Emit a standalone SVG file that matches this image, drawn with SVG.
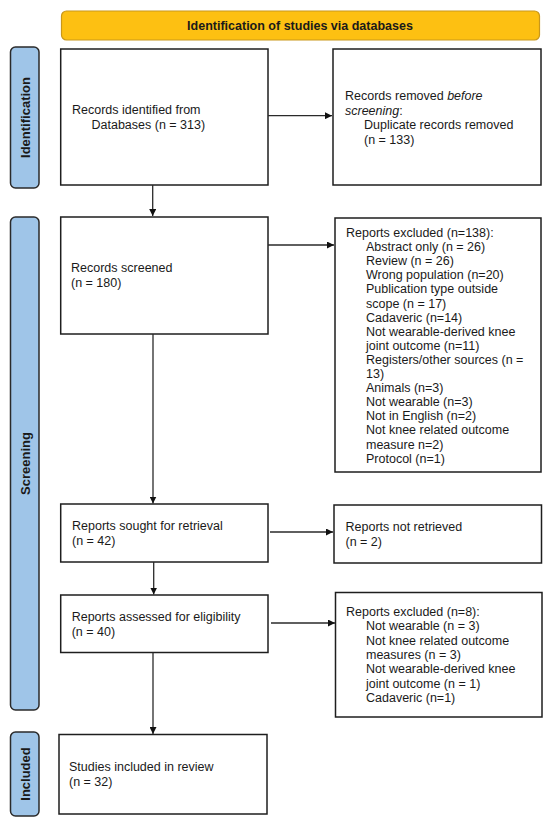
<svg xmlns="http://www.w3.org/2000/svg" width="550" height="824" viewBox="0 0 550 824">
<style>
text{font-family:"Liberation Sans",Arial,sans-serif;font-size:12.5px;fill:#1a1a1a}
.box{fill:#fff;stroke:#1e1e1e;stroke-width:1.5}
.bar{fill:#9fc5e8;stroke:#2a2a2a;stroke-width:1.5}
.head{fill:#fdc012;stroke:#c9971a;stroke-width:1.2}
.bt{font-weight:bold}
.side{font-weight:bold;font-size:13px}
.conn{stroke:#2a2a2a;stroke-width:1.3;fill:none}
</style>
<defs>
<marker id="ah" viewBox="0 0 10 10" refX="10" refY="5" markerWidth="7" markerHeight="7" markerUnits="userSpaceOnUse" orient="auto">
<path d="M0,0 L10,5 L0,10 Z" fill="#111"/>
</marker>
</defs>

<g id="header">
<rect class="head" x="61.5" y="11" width="478" height="29" rx="5"/>
<text class="bt" x="300" y="30" text-anchor="middle">Identification of studies via databases</text>
</g>

<g id="bar-identification">
<rect class="bar" x="10.5" y="47" width="28.5" height="141" rx="5"/>
<text class="side" transform="translate(29.5,117.5) rotate(-90)" text-anchor="middle">Identification</text>
</g>
<g id="bar-screening">
<rect class="bar" x="10.5" y="217" width="28.5" height="493" rx="5"/>
<text class="side" transform="translate(29.5,463.5) rotate(-90)" text-anchor="middle">Screening</text>
</g>
<g id="bar-included">
<rect class="bar" x="10.5" y="732" width="28.5" height="84" rx="5"/>
<text class="side" transform="translate(29.5,774) rotate(-90)" text-anchor="middle">Included</text>
</g>

<g id="records-identified">
<rect class="box" x="60.7" y="49" width="207.3" height="136"/>
<text x="72" y="114">Records identified from</text>
<text x="91.5" y="129">Databases (n = 313)</text>
</g>

<g id="records-removed">
<rect class="box" x="333" y="49" width="208" height="136"/>
<text x="345" y="100">Records removed <tspan font-style="italic">before</tspan></text>
<text x="345" y="114.5"><tspan font-style="italic">screening</tspan>:</text>
<text x="364" y="129">Duplicate records removed</text>
<text x="364" y="143.5">(n = 133)</text>
</g>

<g id="records-screened">
<rect class="box" x="60.7" y="217" width="207.3" height="117"/>
<text x="71" y="272">Records screened</text>
<text x="71" y="287">(n = 180)</text>
</g>

<g id="reports-excluded-138">
<rect class="box" x="335" y="218" width="206" height="254"/>
<text x="346" y="237">Reports excluded (n=138):</text>
<text x="366" y="251.1">Abstract only (n = 26)</text>
<text x="366" y="265.2">Review (n = 26)</text>
<text x="366" y="279.3">Wrong population (n=20)</text>
<text x="366" y="293.4">Publication type outside</text>
<text x="366" y="307.5">scope (n = 17)</text>
<text x="366" y="321.6">Cadaveric (n=14)</text>
<text x="366" y="335.7">Not wearable-derived knee</text>
<text x="366" y="349.8">joint outcome (n=11)</text>
<text x="366" y="363.9">Registers/other sources (n =</text>
<text x="366" y="378">13)</text>
<text x="366" y="392.1">Animals (n=3)</text>
<text x="366" y="406.2">Not wearable (n=3)</text>
<text x="366" y="420.3">Not in English (n=2)</text>
<text x="366" y="434.4">Not knee related outcome</text>
<text x="366" y="448.5">measure n=2)</text>
<text x="366" y="462.6">Protocol (n=1)</text>
</g>

<g id="reports-sought">
<rect class="box" x="60.7" y="504" width="207.3" height="58"/>
<text x="72" y="530">Reports sought for retrieval</text>
<text x="72" y="545">(n = 42)</text>
</g>

<g id="reports-not-retrieved">
<rect class="box" x="334" y="505" width="207.5" height="58"/>
<text x="345.5" y="531">Reports not retrieved</text>
<text x="345.5" y="546">(n = 2)</text>
</g>

<g id="reports-assessed">
<rect class="box" x="60.7" y="595" width="207.3" height="57.5"/>
<text x="71.7" y="621">Reports assessed for eligibility</text>
<text x="71.7" y="636">(n = 40)</text>
</g>

<g id="reports-excluded-8">
<rect class="box" x="335.5" y="592.5" width="206.5" height="124.5"/>
<text x="346" y="616">Reports excluded (n=8):</text>
<text x="366" y="630.3">Not wearable (n = 3)</text>
<text x="366" y="644.6">Not knee related outcome</text>
<text x="366" y="658.9">measures (n = 3)</text>
<text x="366" y="673.2">Not wearable-derived knee</text>
<text x="366" y="687.5">joint outcome (n = 1)</text>
<text x="366" y="701.8">Cadaveric (n=1)</text>
</g>

<g id="studies-included">
<rect class="box" x="59" y="734.5" width="208" height="79.5"/>
<text x="69" y="771">Studies included in review</text>
<text x="69" y="786">(n = 32)</text>
</g>

<g id="connectors">
<line class="conn" x1="268" y1="115.7" x2="332" y2="115.7" marker-end="url(#ah)"/>
<line class="conn" x1="152.7" y1="185" x2="152.7" y2="216" marker-end="url(#ah)"/>
<line class="conn" x1="268" y1="245" x2="334" y2="245" marker-end="url(#ah)"/>
<line class="conn" x1="153" y1="334" x2="153" y2="503.5" marker-end="url(#ah)"/>
<line class="conn" x1="270" y1="532" x2="333" y2="532" marker-end="url(#ah)"/>
<line class="conn" x1="153.7" y1="562" x2="153.7" y2="594.5" marker-end="url(#ah)"/>
<line class="conn" x1="271" y1="623" x2="335" y2="623" marker-end="url(#ah)"/>
<line class="conn" x1="153" y1="652.5" x2="153" y2="734" marker-end="url(#ah)"/>
</g>
</svg>
